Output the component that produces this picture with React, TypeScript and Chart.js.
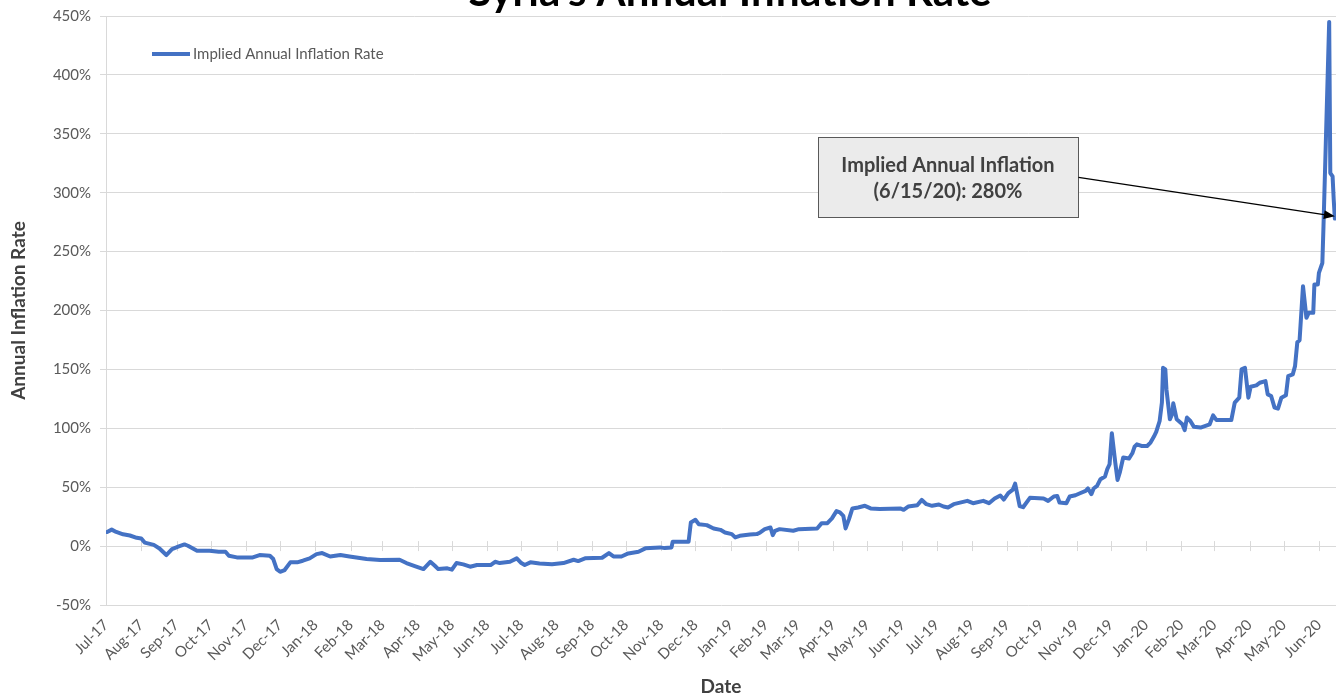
import React, { useEffect, useRef } from "react";
import { Chart, registerables } from "chart.js";

Chart.register(...registerables);

// ---- data ----
const titleText = "Syria's Annual Inflation Rate";
const seriesName = "Implied Annual Inflation Rate";
const xTitle = "Date";
const yTitle = "Annual Inflation Rate";

const monthLabels = [
  "Jul-17", "Aug-17", "Sep-17", "Oct-17", "Nov-17", "Dec-17",
  "Jan-18", "Feb-18", "Mar-18", "Apr-18", "May-18", "Jun-18",
  "Jul-18", "Aug-18", "Sep-18", "Oct-18", "Nov-18", "Dec-18",
  "Jan-19", "Feb-19", "Mar-19", "Apr-19", "May-19", "Jun-19",
  "Jul-19", "Aug-19", "Sep-19", "Oct-19", "Nov-19", "Dec-19",
  "Jan-20", "Feb-20", "Mar-20", "Apr-20", "May-20", "Jun-20",
];

// days since 1 Jul 2017
const dayOffsets = [
  1, 5, 9, 15, 21, 27, 31, 34, 42, 47, 53, 58, 64, 69, 72, 80, 91, 99, 105, 108,
  115, 129, 135, 144, 147, 150, 153, 157, 162, 168, 173, 179, 185, 190, 197, 206, 214, 220, 229, 241,
  258, 264, 272, 279, 285, 289, 292, 300, 304, 308, 314, 320, 326, 338, 342, 346, 355, 361, 365, 368,
  373, 381, 392, 402, 411, 415, 421, 436, 442, 446, 453, 459, 468, 474, 487, 491, 497, 498, 512, 514,
  518, 521, 528, 534, 540, 544, 550, 553, 557, 566, 572, 575, 579, 584, 586, 588, 592, 604, 609, 625,
  629, 634, 638, 642, 645, 648, 650, 653, 656, 661, 667, 672, 680, 698, 701, 705, 713, 717, 721, 726,
  732, 736, 740, 745, 757, 762, 771, 776, 781, 786, 789, 793, 797, 799, 803, 806, 812, 824, 828, 833,
  836, 838, 844, 847, 852, 856, 861, 863, 866, 868, 871, 874, 878, 880, 882, 884, 887, 889, 891, 894,
  899, 902, 904, 906, 910, 915, 918, 921, 923, 926, 928, 929, 931, 932, 935, 937, 938, 941, 946, 948,
  950, 953, 956, 962, 970, 973, 976, 989, 992, 996, 998, 1001, 1004, 1006, 1011, 1014, 1019, 1021, 1024, 1027,
  1030, 1033, 1037, 1039, 1043, 1045, 1047, 1049, 1052, 1055, 1057, 1061, 1062, 1065, 1066, 1069, 1070, 1075, 1076, 1078,
  1079, 1080,
];

// implied annual inflation rate, %
const inflationRates = [
  12, 14, 12, 10, 9, 7, 6.5, 3, 1, -2, -7.6, -2.5, -0.3, 1.4, 0.3, -4, -4, -4.8, -4.8, -8.2,
  -9.6, -9.6, -7.6, -8.2, -11, -19.5, -21.8, -20.3, -13.8, -13.8, -12.4, -10.4, -6.8, -5.9, -8.8, -7.6, -8.8, -9.6, -11, -11.9,
  -11.6, -14.4, -17.2, -19.5, -13.3, -16.7, -19.5, -18.9, -20, -14.4, -15.5, -17.5, -16.1, -16.1, -13.3, -14.4, -13.3, -10.4, -14.4, -16.1,
  -13.8, -14.7, -15.5, -14.4, -11.6, -12.7, -10.4, -9.9, -5.9, -8.8, -8.8, -6.2, -4.8, -1.9, -1.1, -1.7, -1.1, 3.6, 3.6, 20,
  22.3, 18.6, 17.8, 15, 13.8, 11.6, 10.2, 7.4, 8.7, 9.9, 10.2, 11.6, 14.4, 15.8, 9.3, 13, 14.4, 13, 14.4, 15,
  19.5, 19.5, 23.5, 29.7, 28.6, 25.7, 15, 22.9, 32, 32.8, 34.2, 32, 31.4, 32, 30.8, 33.6, 34.7, 39.2, 35.6, 34.2,
  35.3, 33.6, 32.8, 35.6, 38.4, 36.4, 38.4, 36.4, 40.4, 43, 39.5, 45, 48, 53, 34, 33, 41, 40.4, 38.4, 42.1,
  42.6, 37, 36.4, 42.1, 43.2, 44.9, 46.9, 48.9, 44.1, 48.9, 51.1, 56.8, 59.1, 65.3, 69.5, 95.8, 70.9, 56.2, 62.5, 75.2,
  74.3, 78.8, 84.5, 86.4, 85, 85, 87.9, 93, 96.9, 106.2, 121.8, 151.4, 150, 133, 107.6, 111.9, 121.2, 107.6, 103.4, 98.5,
  109.1, 106.2, 101.4, 100.6, 103.4, 111, 107, 107, 121.8, 126, 150, 151.4, 126, 135.3, 136.4, 138.7, 140.1, 128.8, 127.4, 117.5,
  116.7, 126, 128, 144.3, 145.8, 152.8, 173.1, 174.8, 220.6, 193.8, 198, 198, 222, 222, 232, 240.3, 271.4, 445, 316.7, 313.8,
  294, 278,
];

const yMin = -50;
const yMax = 450;
const yStep = 50;
const xMaxDay = 1081;

const annotationLines = ["Implied Annual Inflation", "(6/15/20): 280%"];
const annotationTargetDay = 1080; // 6/15/20
const annotationTargetValue = 280;
const annotationBoxDay = 740;
const annotationBoxValue = 313;

// ---- styles ----
const FONT = "Lato, 'Open Sans', sans-serif";
const LINE_COLOR = "#4472C4";
const GRID_COLOR = "#d9d9d9";
const TICK_COLOR = "#595959";
const TITLE_COLOR = "#404040";

const START = Date.UTC(2017, 6, 1);
const DAY_MS = 86400000;
const monthDays = monthLabels.map((_, i) => Math.round((Date.UTC(2017, 6 + i, 1) - START) / DAY_MS));

const decorPlugin = {
  id: "decor",
  beforeDatasetsDraw(chart: any) {
    const { ctx, scales } = chart;
    const x = scales.x;
    const y = scales.y;
    const y0 = y.getPixelForValue(0);
    ctx.save();
    ctx.strokeStyle = GRID_COLOR;
    ctx.lineWidth = 1;
    monthDays.forEach((d) => {
      const px = Math.round(x.getPixelForValue(d)) + 0.5;
      ctx.beginPath();
      ctx.moveTo(px, y0 - 5);
      ctx.lineTo(px, y0 + 5);
      ctx.stroke();
    });
    ctx.restore();
  },
  afterDraw(chart: any) {
    const { ctx, scales, chartArea } = chart;
    const x = scales.x;
    const y = scales.y;
    ctx.save();
    // title (cropped at the top)
    ctx.font = `bold 42px ${FONT}`;
    ctx.fillStyle = "#000000";
    ctx.textAlign = "center";
    ctx.textBaseline = "alphabetic";
    ctx.fillText(titleText, 730, 6);

    // legend
    ctx.strokeStyle = LINE_COLOR;
    ctx.lineWidth = 4;
    ctx.beginPath();
    ctx.moveTo(chartArea.left + 46, 54);
    ctx.lineTo(chartArea.left + 84, 54);
    ctx.stroke();
    ctx.font = `15px ${FONT}`;
    ctx.fillStyle = TICK_COLOR;
    ctx.textAlign = "left";
    ctx.textBaseline = "middle";
    ctx.fillText(seriesName, chartArea.left + 87, 54);

    // annotation
    const cx = x.getPixelForValue(annotationBoxDay);
    const cy = y.getPixelForValue(annotationBoxValue);
    const bw = 260;
    const bh = 80;
    const bl = Math.round(cx - bw / 2) + 0.5;
    const bt = Math.round(cy - bh / 2) + 0.5;
    ctx.fillStyle = "#ebebeb";
    ctx.fillRect(bl, bt, bw, bh);
    ctx.strokeStyle = "#595959";
    ctx.lineWidth = 1;
    ctx.strokeRect(bl, bt, bw, bh);
    ctx.font = `bold 20px ${FONT}`;
    ctx.fillStyle = TITLE_COLOR;
    ctx.textAlign = "center";
    ctx.textBaseline = "middle";
    ctx.fillText(annotationLines[0], cx, cy - 12);
    ctx.fillText(annotationLines[1], cx, cy + 14);

    // arrow
    const sx = bl + bw;
    const sy = cy;
    const tx = x.getPixelForValue(annotationTargetDay);
    const ty = y.getPixelForValue(annotationTargetValue);
    const ang = Math.atan2(ty - sy, tx - sx);
    const hl = 11;
    const hw = 4.5;
    const bx = tx - hl * Math.cos(ang);
    const by = ty - hl * Math.sin(ang);
    ctx.strokeStyle = "#000000";
    ctx.lineWidth = 1.2;
    ctx.beginPath();
    ctx.moveTo(sx, sy);
    ctx.lineTo(bx, by);
    ctx.stroke();
    ctx.fillStyle = "#000000";
    ctx.beginPath();
    ctx.moveTo(tx, ty);
    ctx.lineTo(bx - hw * Math.sin(ang), by + hw * Math.cos(ang));
    ctx.lineTo(bx + hw * Math.sin(ang), by - hw * Math.cos(ang));
    ctx.closePath();
    ctx.fill();
    ctx.restore();
  },
};

export default function App() {
  const ref = useRef<HTMLCanvasElement | null>(null);

  useEffect(() => {
    if (!ref.current) return;
    const chart = new Chart(ref.current, {
      type: "line",
      data: {
        datasets: [
          {
            label: seriesName,
            data: dayOffsets.map((d, i) => ({ x: d, y: inflationRates[i] })),
            borderColor: LINE_COLOR,
            backgroundColor: LINE_COLOR,
            borderWidth: 4,
            pointRadius: 0,
            tension: 0,
            borderJoinStyle: "round",
            borderCapStyle: "round",
          },
        ],
      },
      options: {
        responsive: false,
        animation: false,
        layout: { padding: { top: 16, right: 0, left: 0, bottom: 0 } },
        plugins: {
          legend: { display: false },
          title: { display: false },
          tooltip: { enabled: false },
        },
        scales: {
          x: {
            type: "linear",
            min: 0,
            max: xMaxDay,
            grid: { display: false },
            border: { display: false },
            afterBuildTicks: (scale: any) => {
              scale.ticks = monthDays.map((v) => ({ value: v }));
            },
            afterFit: (scale: any) => {
              scale.height = 93;
            },
            ticks: {
              autoSkip: false,
              maxRotation: 45,
              minRotation: 45,
              padding: 3,
              color: TICK_COLOR,
              font: { family: FONT, size: 15 },
              callback: (_v: any, i: number) => monthLabels[i],
            },
            title: {
              display: true,
              text: xTitle,
              color: TITLE_COLOR,
              font: { family: FONT, size: 19, weight: "bold" },
              padding: { top: 0, bottom: 0 },
            },
          },
          y: {
            min: yMin,
            max: yMax,
            grid: { color: GRID_COLOR, tickLength: 6, drawTicks: true },
            border: { display: true, color: GRID_COLOR },
            afterFit: (scale: any) => {
              scale.width = 106;
              scale.paddingTop = 0;
              scale.paddingBottom = 0;
            },
            ticks: {
              stepSize: yStep,
              padding: 9,
              color: TICK_COLOR,
              font: { family: FONT, size: 15, lineHeight: 1 },
              callback: (v: any) => `${v}%`,
            },
            title: {
              display: true,
              text: yTitle,
              color: TITLE_COLOR,
              font: { family: FONT, size: 19, weight: "bold" },
              padding: { top: 7, bottom: 0 },
            },
          },
        },
      },
      plugins: [decorPlugin],
    });
    return () => chart.destroy();
  }, []);

  return (
    <div style={{ position: "fixed", left: 0, top: 0, width: 1336, height: 698, background: "#ffffff" }}>
      <canvas ref={ref} width={1336} height={698} style={{ width: 1336, height: 698, display: "block" }} />
    </div>
  );
}
